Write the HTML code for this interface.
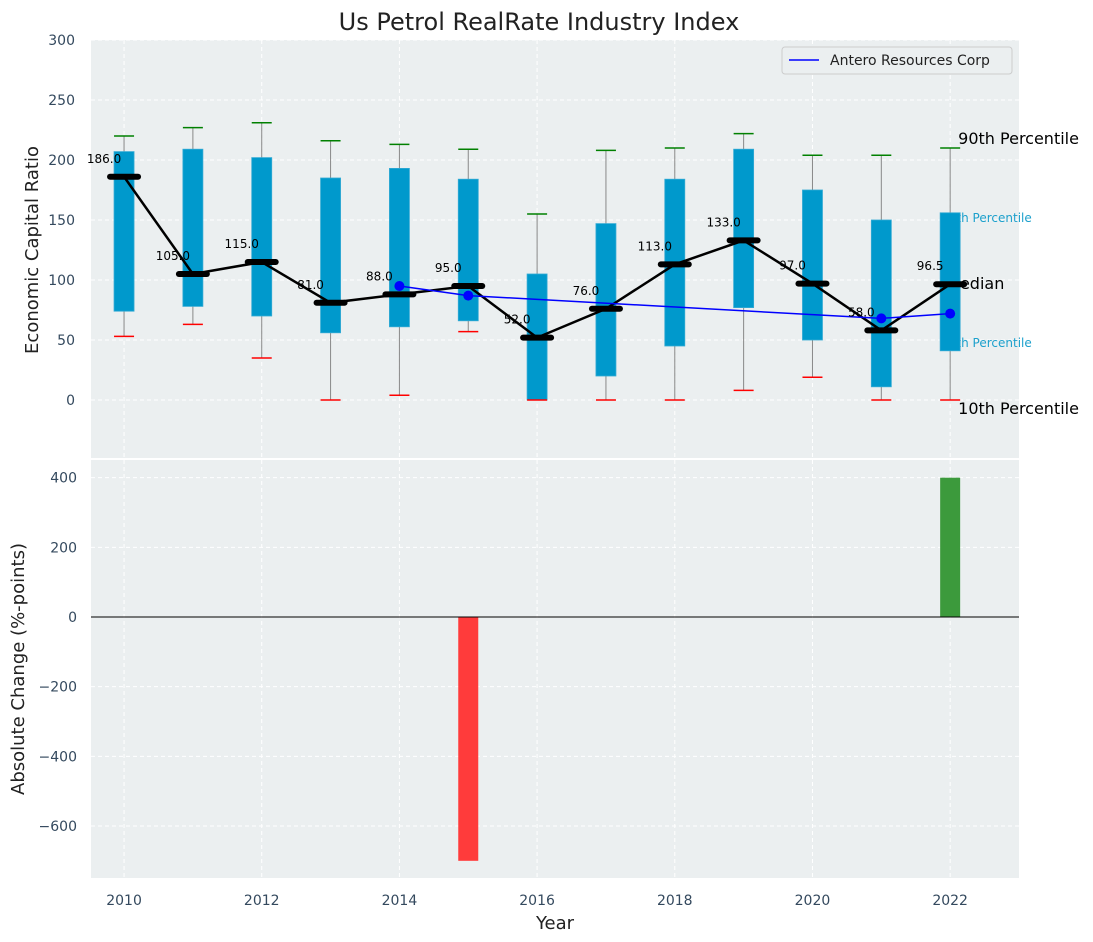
<!DOCTYPE html>
<html><head><meta charset="utf-8"><style>
body{margin:0;background:#fff;}
svg{display:block;font-family:"DejaVu Sans","Liberation Sans",sans-serif;}
</style></head><body>
<svg id="chart" width="1093" height="942"></svg>
<script>
const years=[2010,2011,2012,2013,2014,2015,2016,2017,2018,2019,2020,2021,2022];
const p10=[53,63,35,0,4,57,0,0,0,8,19,0,0];
const p25=[74,78,70,56,61,66,0,20,45,77,50,11,41];
const med=[186,105,115,81,88,95,52,76,113,133,97,58,96.5];
const p75=[207,209,202,185,193,184,105,147,184,209,175,150,156];
const p90=[220,227,231,216,213,209,155,208,210,222,204,204,210];
const anteroYears=[2014,2015,2021,2022];
const anteroVals=[95,87,68,72];
const chgYears=[2015,2022];
const chgVals=[-700,400];
const topTicks=[0,50,100,150,200,250,300];
const botTicks=[-600,-400,-200,0,200,400];
const xTicks=[2010,2012,2014,2016,2018,2020,2022];

const NS="http://www.w3.org/2000/svg";
const svg=document.getElementById('chart');
function el(tag,attrs,parent,txt){const e=document.createElementNS(NS,tag);for(const k in attrs)e.setAttribute(k,attrs[k]);if(txt!==undefined)e.textContent=txt;(parent||svg).appendChild(e);return e;}
const L=91,R=1019;
const x=v=>L+(v-2009.52)/(2023-2009.52)*(R-L);
const yT=v=>400-v*1.2;
const yB=v=>617-v*0.3483;

// backgrounds
let e;
e=el('rect',{x:L,y:40,width:R-L,height:418,fill:'#ebeff0'});

e=el('rect',{x:L,y:460,width:R-L,height:418,fill:'#ebeff0'});


// grids
for(const t of topTicks){el('line',{x1:L,x2:R,y1:yT(t),y2:yT(t),stroke:'#fff','stroke-dasharray':'4,3','stroke-width':1});
 e=el('text',{x:L-16,y:yT(t)+5,'text-anchor':'end','font-size':14,fill:'#34495e'},null,t);
 }
for(const t of botTicks){el('line',{x1:L,x2:R,y1:yB(t),y2:yB(t),stroke:'#fff','stroke-dasharray':'4,3','stroke-width':1});
 e=el('text',{x:L-14,y:yB(t)+5,'text-anchor':'end','font-size':14,fill:'#34495e'},null,String(t).replace('-','\u2212'));
 }
for(const t of xTicks){
 el('line',{x1:x(t),x2:x(t),y1:40,y2:458,stroke:'#fff','stroke-dasharray':'4,3'});
 el('line',{x1:x(t),x2:x(t),y1:460,y2:878,stroke:'#fff','stroke-dasharray':'4,3'});
 e=el('text',{x:x(t),y:905,'text-anchor':'middle','font-size':14,fill:'#34495e'},null,t);
 }

// percentile side labels (under boxes)
const lx=x(2022);
e=el('text',{x:lx+8,y:144,'font-size':16,fill:'#000'},null,'90th Percentile');
e=el('text',{x:lx-9,y:222,'font-size':12,fill:'#1ca0cc'},null,'75th Percentile');
e=el('text',{x:lx-4,y:289,'font-size':16,fill:'#000'},null,'Median');
e=el('text',{x:lx-9,y:347,'font-size':12,fill:'#1ca0cc'},null,'25th Percentile');
e=el('text',{x:lx+8,y:414,'font-size':16,fill:'#000'},null,'10th Percentile');

// boxes
years.forEach((yr,i)=>{
 const cx=x(yr);
 e=el('line',{x1:cx,x2:cx,y1:yT(p10[i]),y2:yT(p90[i]),stroke:'#888','stroke-width':1});
 
 e=el('rect',{x:cx-10,y:yT(p75[i]),width:20,height:yT(p25[i])-yT(p75[i]),fill:'#0099cc',stroke:'#33aad4','stroke-width':0.8});
 
 e=el('line',{x1:cx-10,x2:cx+10,y1:yT(p90[i]),y2:yT(p90[i]),stroke:'#008000','stroke-width':1.5});
 
 e=el('line',{x1:cx-10,x2:cx+10,y1:yT(p10[i]),y2:yT(p10[i]),stroke:'#ff0000','stroke-width':1.5});
 
});
// median line
e=el('polyline',{points:years.map((yr,i)=>x(yr)+','+yT(med[i])).join(' '),fill:'none',stroke:'#000','stroke-width':2.5});

// antero
e=el('polyline',{points:anteroYears.map((yr,i)=>x(yr)+','+yT(anteroVals[i])).join(' '),fill:'none',stroke:'#0000ff','stroke-width':1.5});

anteroYears.forEach((yr,i)=>{e=el('circle',{cx:x(yr),cy:yT(anteroVals[i]),r:5,fill:'#0000ff'});
 });
years.forEach((yr,i)=>{
 const cx=x(yr),cy=yT(med[i]);
 e=el('line',{x1:cx-14,x2:cx+14,y1:cy,y2:cy,stroke:'#000','stroke-width':6,'stroke-linecap':'round'});
 
 e=el('text',{x:cx-20,y:cy-14,'text-anchor':'middle','font-size':12,fill:'#000'},null,med[i].toFixed(1));
 
});

// bottom bars
chgYears.forEach((yr,i)=>{const v=chgVals[i];
 e=el('rect',{x:x(yr)-10,y:Math.min(yB(0),yB(v)),width:20,height:Math.abs(yB(v)-yB(0)),fill:v<0?'#ff3b3b':'#3c9a3c'});
 });
el('line',{x1:L,x2:R,y1:yB(0),y2:yB(0),stroke:'#000','stroke-width':1});

// legend
const lg=el('g',{});
el('rect',{x:782,y:47,width:230,height:27,rx:3,fill:'#ebeff0',stroke:'#ccc'},lg);
el('line',{x1:789,x2:819,y1:60,y2:60,stroke:'#0000ff','stroke-width':1.5},lg);
el('text',{x:830,y:65,'font-size':14,fill:'#222'},lg,'Antero Resources Corp');

// titles
e=el('text',{x:539,y:30,'text-anchor':'middle','font-size':24,fill:'#222'},null,'Us Petrol RealRate Industry Index');

e=el('text',{x:0,y:0,'text-anchor':'middle','font-size':18,fill:'#222',transform:'translate(38,250) rotate(-90)'},null,'Economic Capital Ratio');

e=el('text',{x:0,y:0,'text-anchor':'middle','font-size':18,fill:'#222',transform:'translate(24,669) rotate(-90)'},null,'Absolute Change (%-points)');

e=el('text',{x:555,y:929,'text-anchor':'middle','font-size':18,fill:'#222'},null,'Year');

</script>
</body></html>
